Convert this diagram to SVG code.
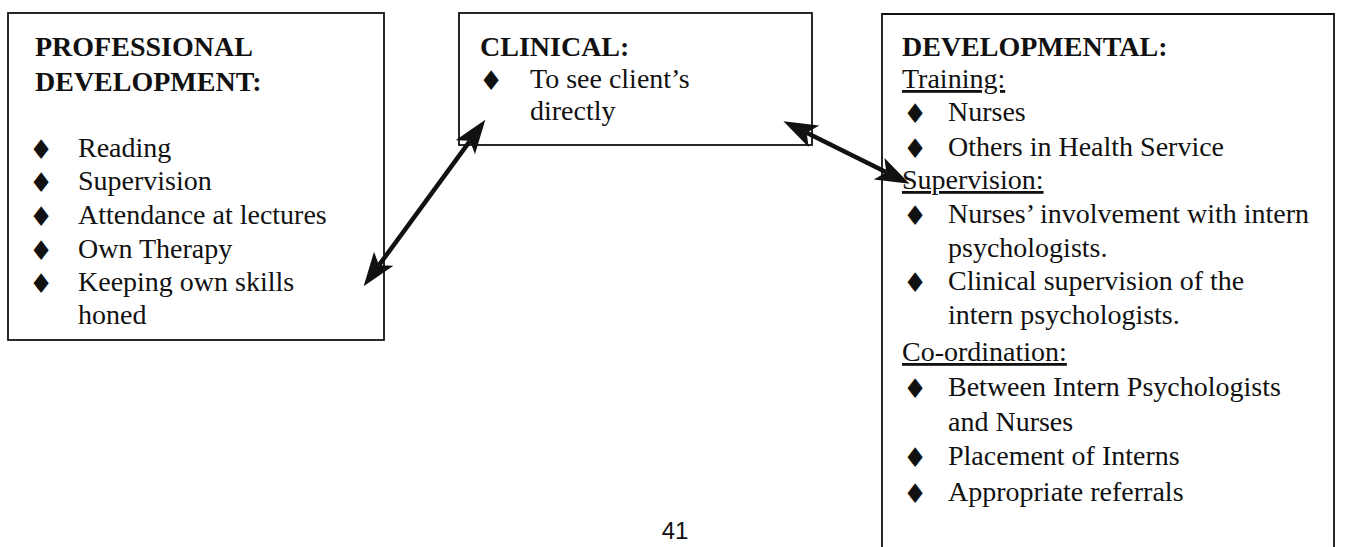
<svg xmlns="http://www.w3.org/2000/svg" width="1369" height="547" viewBox="0 0 1369 547">
<style>
.box{fill:#fff;stroke:#111;stroke-width:1.8}
.t{font-family:"Liberation Serif","Times New Roman",serif;font-size:28px;fill:#111}
.h{font-weight:bold}
.u{text-decoration:underline}
.b{font-family:"DejaVu Sans",sans-serif;font-size:27px;fill:#111;text-anchor:middle}
.arr{stroke:#111;stroke-width:4.5;fill:none;marker-start:url(#ah);marker-end:url(#ah)}
.pg{font-family:"Liberation Sans",Arial,sans-serif;font-size:24px;fill:#111;text-anchor:middle}
</style>
<defs>
<marker id="ah" markerUnits="userSpaceOnUse" markerWidth="70" markerHeight="70" viewBox="-35 -35 70 70" refX="0" refY="0" orient="auto-start-reverse" overflow="visible">
<path d="M26,0 L-8,-12 L0,0 L-8,12 Z" fill="#111"/>
</marker>
</defs>
<rect width="1369" height="547" fill="#fff"/>
<g id="professional">
<rect class="box" x="8" y="13" width="376" height="327"/>
<text class="t h" x="35" y="56">PROFESSIONAL</text>
<text class="t h" x="35" y="91">DEVELOPMENT:</text>
<text class="b" x="41" y="159">♦</text><text class="t" x="78" y="157">Reading</text>
<text class="b" x="41" y="192">♦</text><text class="t" x="78" y="190">Supervision</text>
<text class="b" x="41" y="226">♦</text><text class="t" x="78" y="224">Attendance at lectures</text>
<text class="b" x="41" y="260">♦</text><text class="t" x="78" y="258">Own Therapy</text>
<text class="b" x="41" y="293">♦</text><text class="t" x="78" y="291">Keeping own skills</text>
<text class="t" x="78" y="324">honed</text>
</g>
<g id="clinical">
<rect class="box" x="459" y="13" width="353" height="132"/>
<text class="t h" x="480" y="56">CLINICAL:</text>
<text class="b" x="491" y="90">♦</text><text class="t" x="530" y="88">To see client’s</text>
<text class="t" x="530" y="120">directly</text>
</g>
<g id="developmental">
<path class="box" d="M882,548 V14 H1334 V548"/>
<text class="t h" x="902" y="56">DEVELOPMENTAL:</text>
<text class="t u" x="902" y="88">Training:</text>
<text class="b" x="915" y="123">♦</text><text class="t" x="948" y="121">Nurses</text>
<text class="b" x="915" y="158">♦</text><text class="t" x="948" y="156">Others in Health Service</text>
<text class="t u" x="902" y="189">Supervision:</text>
<text class="b" x="915" y="225">♦</text><text class="t" x="948" y="223">Nurses’ involvement with intern</text>
<text class="t" x="948" y="257">psychologists.</text>
<text class="b" x="915" y="292">♦</text><text class="t" x="948" y="290">Clinical supervision of the</text>
<text class="t" x="948" y="324">intern psychologists.</text>
<text class="t u" x="902" y="361">Co-ordination:</text>
<text class="b" x="915" y="398">♦</text><text class="t" x="948" y="396">Between Intern Psychologists</text>
<text class="t" x="948" y="431">and Nurses</text>
<text class="b" x="915" y="467">♦</text><text class="t" x="948" y="465">Placement of Interns</text>
<text class="b" x="915" y="503">♦</text><text class="t" x="948" y="501">Appropriate referrals</text>
</g>
<g id="connectors">
<path class="arr" d="M379,265.2 L470,140.8"/>
<path class="arr" d="M806.7,132.8 L886.3,172.2"/>
</g>
<text class="pg" x="675" y="539">41</text>
</svg>
